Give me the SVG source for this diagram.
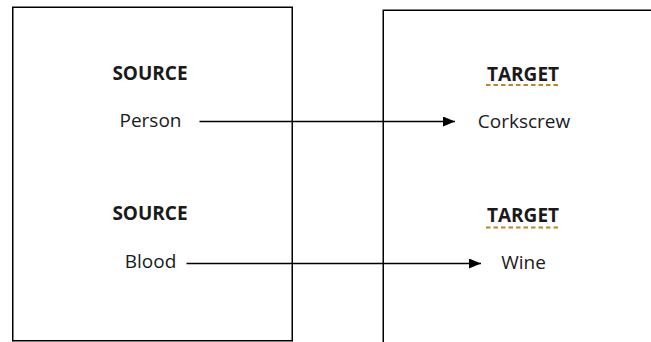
<svg xmlns="http://www.w3.org/2000/svg" width="651" height="342" viewBox="0 0 651 342">
  <defs>
    <style>
      .frame { fill: #ffffff; stroke: #000000; stroke-width: 1.5; }
      .head { font-family: "Open Sans", "Liberation Sans", sans-serif; font-weight: bold; font-size: 19px; fill: #1a1a1a; text-anchor: middle; }
      .item { font-family: "Open Sans", "Liberation Sans", sans-serif; font-size: 19px; fill: #1a1a1a; text-anchor: middle; }
      .squiggle { stroke: #b8862b; stroke-width: 2; stroke-dasharray: 4.5 3; fill: none; }
      .link { stroke: #000000; stroke-width: 1.3; fill: none; marker-end: url(#arrow); }
    </style>
    <marker id="arrow" viewBox="0 0 12 10" refX="12" refY="5" markerWidth="12" markerHeight="10" markerUnits="userSpaceOnUse" orient="auto">
      <path d="M0,0 L12,5 L0,10 Z" fill="#000000"/>
    </marker>
  </defs>

  <rect width="651" height="342" fill="#ffffff"/>

  <!-- source panel -->
  <g id="source-panel">
    <rect class="frame" x="12.75" y="7.25" width="279.5" height="333.5"/>
    <g id="source-person">
      <text class="head" x="150" y="80">SOURCE</text>
      <text class="item" x="150.5" y="127">Person</text>
    </g>
    <g id="source-blood">
      <text class="head" x="150" y="220">SOURCE</text>
      <text class="item" x="150.5" y="268">Blood</text>
    </g>
  </g>

  <!-- target panel (runs off the right and bottom edges) -->
  <g id="target-panel">
    <rect class="frame" x="383.25" y="10.25" width="300" height="350"/>
    <g id="target-corkscrew">
      <text class="head" x="523" y="80.5">TARGET</text>
      <line class="squiggle" x1="486" y1="85" x2="561" y2="85"/>
      <text class="item" x="524" y="128">Corkscrew</text>
    </g>
    <g id="target-wine">
      <text class="head" x="523" y="221.5">TARGET</text>
      <line class="squiggle" x1="486" y1="227.5" x2="561" y2="227.5"/>
      <text class="item" x="523.5" y="269">Wine</text>
    </g>
  </g>

  <!-- mapping arrows -->
  <g id="connectors">
    <line class="link" x1="199.5" y1="121.5" x2="455" y2="121.5"/>
    <line class="link" x1="186.5" y1="263.5" x2="481" y2="263.5"/>
  </g>
</svg>
